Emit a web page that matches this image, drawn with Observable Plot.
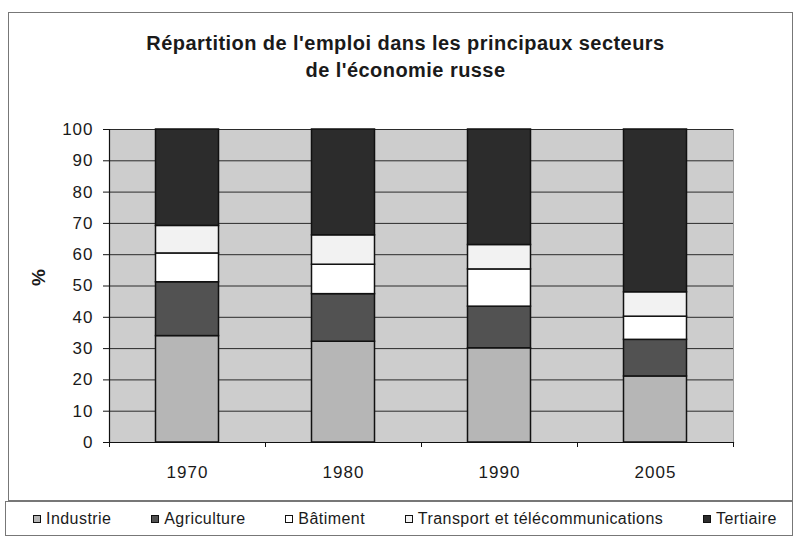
<!DOCTYPE html>
<html>
<head>
<meta charset="utf-8">
<script src="https://cdn.jsdelivr.net/npm/d3@7"></script>
<script src="https://cdn.jsdelivr.net/npm/@observablehq/plot@0.6"></script>
<style>
  body { margin: 0; background: #fff; font-family: "Liberation Sans", Arial, sans-serif; color: #1a1a1a; }
  #frame { position: absolute; left: 8px; top: 12px; width: 785px; height: 489px; border: 1px solid #777; box-sizing: border-box; }
  #title { position: absolute; left: 13px; top: 30px; width: 785px; text-align: center; font-weight: bold; font-size: 20px; letter-spacing: 0.45px; line-height: 27px; }
  #chart { position: absolute; left: 0; top: 100px; }
  #legend { position: absolute; left: 5px; top: 501px; width: 788px; height: 35px; border: 1px solid #777; box-sizing: border-box;
            display: flex; align-items: center; justify-content: space-between; padding: 0 15px 0 27px; font-size: 16px; letter-spacing: 0.45px; }
  .item { display: flex; align-items: center; white-space: nowrap; }
  .sw { width: 6px; height: 6px; border: 1px solid #111; margin-right: 5px; }
</style>
</head>
<body>
<div id="frame"></div>
<div id="title">Répartition de l'emploi dans les principaux secteurs<br>de l'économie russe</div>
<div id="chart"></div>
<div id="legend"></div>
<script>
const years = ["1970", "1980", "1990", "2005"];
const sectors = ["Industrie", "Agriculture", "Bâtiment", "Transport et télécommunications", "Tertiaire"];
const industrie   = [34.0, 32.2, 30.1, 21.1];
const agriculture = [17.2, 15.2, 13.3, 11.7];
const batiment    = [9.2, 9.4, 11.9, 7.4];
const transport   = [8.8, 9.4, 7.8, 7.8];
const tertiaire   = [30.8, 33.8, 36.9, 52.0];
const yTicks = [0, 10, 20, 30, 40, 50, 60, 70, 80, 90, 100];
const sectorColors = ["#b6b6b6", "#525252", "#ffffff", "#f2f2f2", "#2c2c2c"];

const series = [industrie, agriculture, batiment, transport, tertiaire];
const rows = years.flatMap((year, i) =>
  sectors.map((sector, s) => ({year, sector, value: series[s][i]}))
);

const chart = Plot.plot({
  width: 795,
  height: 395,
  marginLeft: 109,
  marginRight: 62,
  marginTop: 29,
  marginBottom: 53,
  style: {fontFamily: "Liberation Sans, Arial, sans-serif", fontSize: "17px", letterSpacing: "1px", color: "#1a1a1a", background: "transparent"},
  x: {domain: years, padding: 0, label: null},
  y: {domain: [0, 100], label: null},
  color: {domain: sectors, range: sectorColors},
  marks: [
    Plot.frame({fill: "#cdcdcd", stroke: "#9a9a9a"}),
    Plot.ruleY(yTicks.slice(1), {stroke: "#2a2a2a", strokeWidth: 1}),
    Plot.barY(rows, {x: "year", y: "value", fill: "sector", stroke: "#111", strokeWidth: 1.5, insetLeft: 46.5, insetRight: 46.5}),
    Plot.frame({anchor: "left", stroke: "#111", strokeWidth: 1.2}),
    Plot.frame({anchor: "bottom", stroke: "#111", strokeWidth: 1.2}),
    Plot.axisY({ticks: yTicks, tickSize: 6, tickPadding: 10, label: null, stroke: "#111"}),
    Plot.axisX({tickSize: 0, tickPadding: 23, label: null}),
    Plot.axisX({tickSize: 5, text: null, label: null, dx: -78, stroke: "#111"}),
    Plot.axisX({ticks: years.slice(-1), tickSize: 5, text: null, label: null, dx: 78, stroke: "#111"}),
    Plot.text(["%"], {frameAnchor: "left", dx: -71, rotate: -90, fontWeight: "bold", fontSize: 19})
  ]
});
document.getElementById("chart").appendChild(chart);

const legend = document.getElementById("legend");
sectors.forEach((s, i) => {
  const item = document.createElement("div");
  item.className = "item";
  const sw = document.createElement("span");
  sw.className = "sw";
  sw.style.background = sectorColors[i];
  item.appendChild(sw);
  item.appendChild(document.createTextNode(s));
  legend.appendChild(item);
});
</script>
</body>
</html>
